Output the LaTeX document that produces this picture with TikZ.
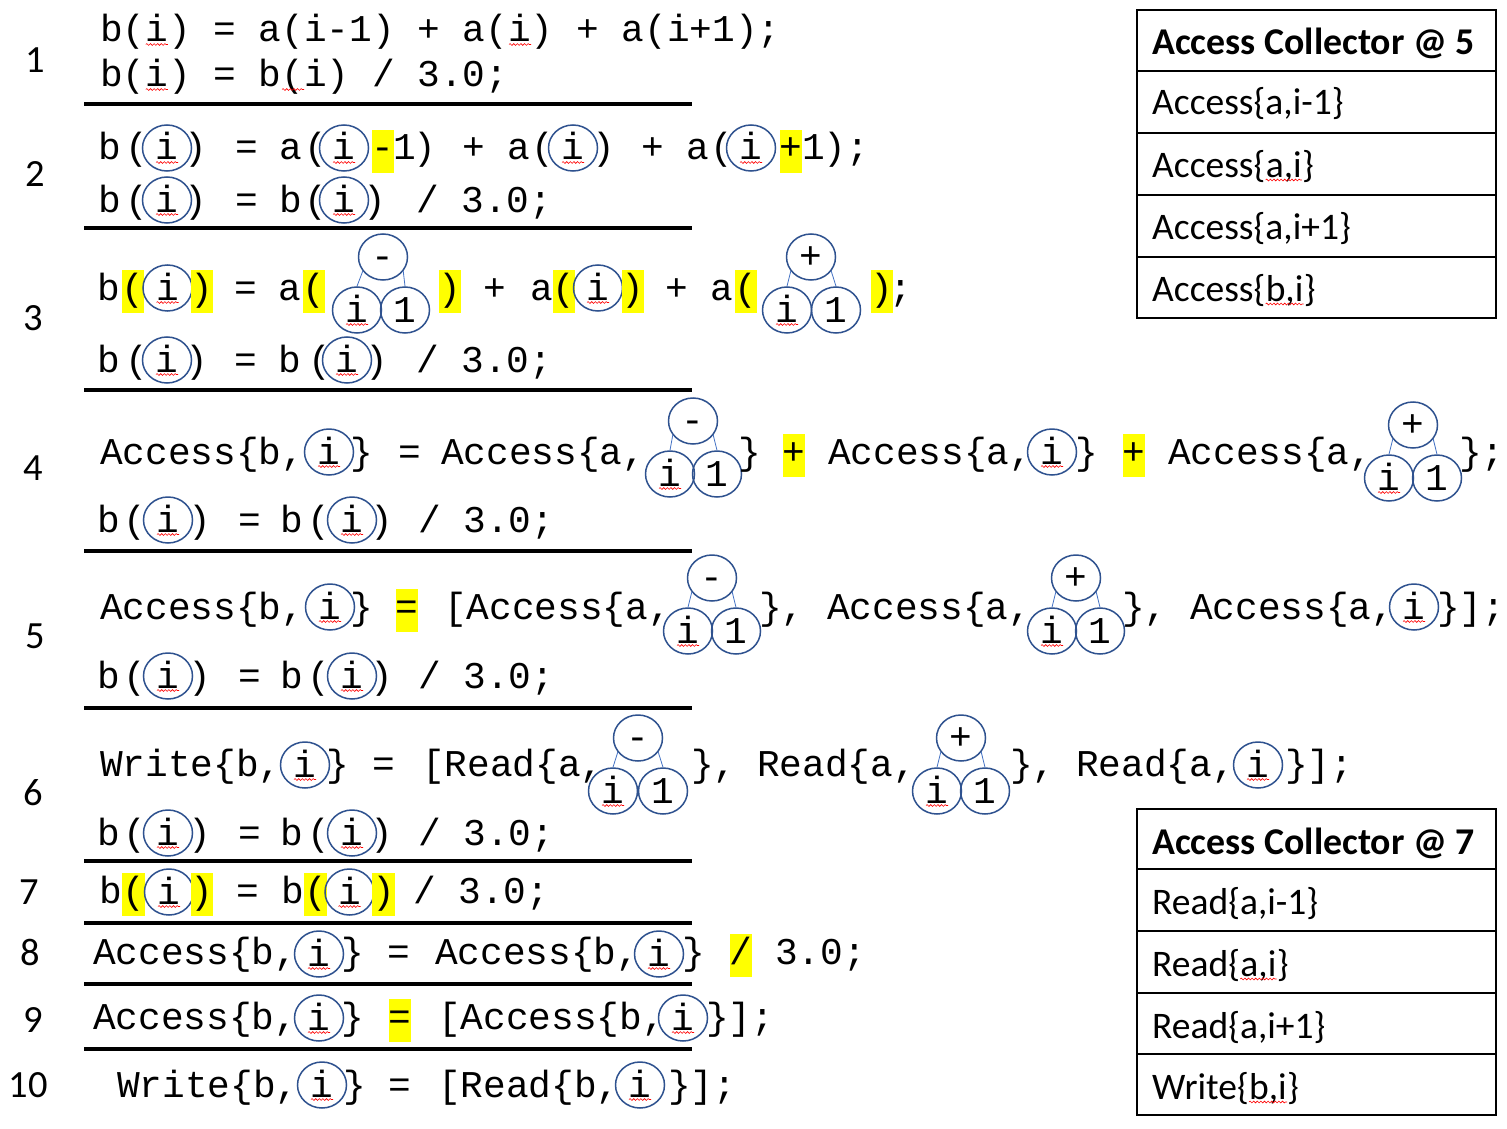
\documentclass[tikz,border=0pt]{standalone}
\usepackage{fontspec}
\usetikzlibrary{shapes.geometric,decorations.pathmorphing}
\newfontfamily\codefont{Liberation Mono}
\newfontfamily\labelfont{Carlito}
\definecolor{cblue}{HTML}{2F528F}
\definecolor{lblue}{HTML}{4472C4}
\definecolor{hly}{HTML}{FFFF00}
\newcounter{tk}
\tikzset{
 code/.style={font=\codefont\fontsize{37.8}{40}\selectfont, inner sep=0pt, outer sep=0pt},
 circ/.style={draw=cblue, line width=1.5pt, ellipse, minimum width=49pt, minimum height=46pt, inner sep=0pt},
 link/.style={draw=lblue, line width=0.8pt},
 wavy/.style={draw=red, line width=0.6pt, decorate, decoration={snake, amplitude=0.9pt, segment length=3.6pt}},
 rulel/.style={line width=3.5pt},
 lbl/.style={font=\labelfont\fontsize{38.5}{40}\selectfont, inner sep=0pt},
 boxt/.style={font=\labelfont\fontsize{37.5}{40}\selectfont, inner sep=0pt, anchor=base west},
 boxh/.style={font=\labelfont\bfseries\fontsize{37.8}{40}\selectfont, inner sep=0pt, anchor=base west},
 boxline/.style={line width=1.8pt},
}
\newcommand\tl[3]{\stepcounter{tk}\node[code,anchor=base west] (t\arabic{tk}) at (#1,#2) {#3};}
\newcommand\tc[3]{\stepcounter{tk}\node[code,anchor=base] (t\arabic{tk}) at (#1,#2) {#3};}
\newcommand\hl[2]{\fill[hly] (#1-11.35,#2-30) rectangle (#1+11.35,#2+13);}
\newcommand\wv[2]{\draw[wavy] (#1-11,#2) -- (#1+11,#2);}
\newcommand\ci[2]{\stepcounter{tk}\node[circ] (c\arabic{tk}) at (#1,#2) {};\node[code,anchor=base] (ct\arabic{tk}) at (#1,#2+12) {i};\wv{#1}{#2+14.5}}
\newcommand\optree[6]{\stepcounter{tk}%
 \node[circ] (o\arabic{tk}) at (#2,#3) {};
 \node[code,anchor=base] (ot\arabic{tk}) at (#2,#3+11) {#1};
 \node[circ] (i\arabic{tk}) at (#4,#6) {};
 \node[code,anchor=base] (it\arabic{tk}) at (#4,#6+12) {i};
 \node[circ] (n\arabic{tk}) at (#5,#6) {};
 \node[code,anchor=base] (nt\arabic{tk}) at (#5,#6+12) {1};
 \draw[link] (o\arabic{tk}.215) -- (i\arabic{tk}.north);
 \draw[link] (o\arabic{tk}.325) -- (n\arabic{tk}.north);
 \wv{#4}{#6+14.5}}
\newcommand\divline[2]{%
 \tc{109}{#1}{b}\tc{135}{#1}{(}\ci{168}{#2}\tc{200}{#1}{)}\tc{250}{#1}{=}\tc{292}{#1}{b}\tc{319}{#1}{(}\ci{352}{#2}\tc{382}{#1}{)}\tl{418}{#1}{/ 3.0;}}
\begin{document}
\begin{tikzpicture}[x=1pt,y=-1pt]
\useasboundingbox (0,0) rectangle (1507,1129);
\fill[white] (0,0) rectangle (1507,1129);
% row labels
\node[lbl] (n1) at (35,60) {1};
\node[lbl] (n2) at (35,174.5) {2};
\node[lbl] (n3) at (33,318) {3};
\node[lbl] (n4) at (33,468) {4};
\node[lbl] (n5) at (35,636) {5};
\node[lbl] (n6) at (33,793) {6};
\node[lbl] (n7) at (29,892) {7};
\node[lbl] (n8) at (30,952) {8};
\node[lbl] (n9) at (33,1020) {9};
\node[lbl] (n10) at (28,1085) {10};
% rules
\foreach \yy in {104,228,390,551,708,861,923,984,1049} \draw[rulel] (84,\yy) -- (692,\yy);
% line 1
\tl{100}{42}{b(i) = a(i-1) + a(i) + a(i+1);}
\wv{156.75}{44.5}\wv{520}{44.5}
\tl{100}{87}{b(i) = b(i) / 3.0;}
\wv{156.75}{89.5}\wv{293}{89.5}
% line 2
\tc{110}{160}{b}\tc{137}{160}{(}\ci{167}{148}\tc{196}{160}{)}\tc{247}{160}{=}\tc{291}{160}{a}\tc{316}{160}{(}\ci{344}{148}\hl{383}{160}\tc{383}{160}{-}\tc{405}{160}{1}\tc{425}{160}{)}\tc{474}{160}{+}\tc{519}{160}{a}\tc{543}{160}{(}\ci{573}{148}\tc{604}{160}{)}\tc{653}{160}{+}\tc{698}{160}{a}\tc{722}{160}{(}\ci{751}{148}\hl{791}{160}\tc{791}{160}{+}\tc{814}{160}{1}\tc{835}{160}{)}\tc{858}{160}{;}
\tc{110}{212}{b}\tc{137}{212}{(}\ci{167}{200}\tc{196}{212}{)}\tc{247}{212}{=}\tc{291}{212}{b}\tc{316}{212}{(}\ci{344}{200}\tc{375}{212}{)}\tl{416}{212}{/ 3.0;}
% line 3
\tc{109}{300}{b}\hl{133}{300}\tc{133}{300}{(}\ci{167.5}{288}\hl{202}{300}\tc{202}{300}{)}\tc{246}{300}{=}\tc{290}{300}{a}\hl{314}{300}\tc{314}{300}{(}\optree{-}{383}{257}{357}{405}{310}\hl{450}{300}\tc{450}{300}{)}\tc{495}{300}{+}\tc{542}{300}{a}\hl{564}{300}\tc{564}{300}{(}\ci{598}{288}\hl{633}{300}\tc{633}{300}{)}\tc{677}{300}{+}\tc{722}{300}{a}\hl{746}{300}\tc{746}{300}{(}\optree{+}{811}{257}{787}{836}{310}\hl{882}{300}\tc{882}{300}{)}\tc{901}{300}{;}
\tc{109}{372}{b}\tc{137}{372}{(}\ci{167}{360}\tc{197}{372}{)}\tc{246}{372}{=}\tc{290}{372}{b}\tc{320}{372}{(}\ci{347}{360}\tc{377}{372}{)}\tl{416}{372}{/ 3.0;}
% line 4
\tl{100}{464}{Access\{b,}\ci{329}{452}\tc{362}{464}{\}}\tc{410}{464}{=}\tl{441}{464}{Access\{a,}\optree{-}{693}{421}{670}{717}{474}\tc{750}{464}{\}}\hl{794}{464}\tc{794}{464}{+}\tl{828}{464}{Access\{a,}\ci{1052}{452}\tc{1087}{464}{\}}\hl{1134}{464}\tc{1134}{464}{+}\tl{1168}{464}{Access\{a,}\optree{+}{1413}{425}{1389}{1437}{478}\tl{1459}{464}{\};}
\divline{532}{520}
% line 5
\tl{100}{619}{Access\{b,}\ci{330}{607}\tc{362}{619}{\}}\hl{407}{619}\tc{407}{619}{=}\tl{444}{619}{[Access\{a,}\optree{-}{712}{578}{688}{736}{631}\tl{759}{619}{\},}\tl{827}{619}{Access\{a,}\optree{+}{1076}{578}{1052}{1100}{631}\tl{1122}{619}{\},}\tl{1190}{619}{Access\{a,}\ci{1414}{607}\tl{1437}{619}{\}];}
\divline{688}{676}
% line 6
\tl{100}{776}{Write\{b,}\ci{305}{765}\tc{338}{776}{\}}\tc{384}{776}{=}\tl{422}{776}{[Read\{a,}\optree{-}{638}{738}{613}{663}{791}\tl{691}{776}{\},}\tl{757}{776}{Read\{a,}\optree{+}{961}{738}{937}{985}{791}\tl{1010}{776}{\},}\tl{1076}{776}{Read\{a,}\ci{1258}{765}\tl{1285}{776}{\}];}
\divline{845}{833}
% line 7
\tc{111}{903}{b}\hl{133.5}{903}\tc{133.5}{903}{(}\ci{169}{892}\hl{202}{903}\tc{202}{903}{)}\tc{247.5}{903}{=}\tc{293}{903}{b}\hl{315.5}{903}\tc{315.5}{903}{(}\ci{349.5}{892}\hl{383.5}{903}\tc{383.5}{903}{)}\tl{413}{903}{/ 3.0;}
% line 8
\tl{93}{964}{Access\{b,}\ci{319}{954}\tc{353}{964}{\}}\tc{399}{964}{=}\tl{435}{964}{Access\{b,}\ci{659}{954}\tc{694}{964}{\}}\hl{741}{964}\tc{741}{964}{/}\tl{775}{964}{3.0;}
% line 9
\tl{93}{1029}{Access\{b,}\ci{319}{1018}\tc{353}{1029}{\}}\hl{400}{1029}\tc{400}{1029}{=}\tl{438}{1029}{[Access\{b,}\ci{683}{1018}\tl{706}{1029}{\}];}
% line 10
\tl{117}{1097}{Write\{b,}\ci{322}{1085}\tc{355}{1097}{\}}\tc{400}{1097}{=}\tl{438}{1097}{[Read\{b,}\ci{640}{1085}\tl{668}{1097}{\}];}
% box 1
\draw[boxline] (1137,10) rectangle (1496,318);
\foreach \yy in {71,133,195,257} \draw[boxline] (1137,\yy) -- (1496,\yy);
\node[boxh] (h1) at (1152,55) {Access Collector @ 5};
\node[boxt] (r11) at (1152,115) {Access\{a,i-1\}};
\node[boxt] (r12a) at (1152,177) {Access\{};
\node[boxt] (r12b) at (r12a.base east) {a,i};
\node[boxt] (r12c) at (r12b.base east) {\}};
\draw[wavy] ([yshift=-3pt]r12b.base west) -- ([yshift=-3pt]r12b.base east);
\node[boxt] (r13) at (1152,239) {Access\{a,i+1\}};
\node[boxt] (r14a) at (1152,301) {Access\{};
\node[boxt] (r14b) at (r14a.base east) {b,i};
\node[boxt] (r14c) at (r14b.base east) {\}};
\draw[wavy] ([yshift=-3pt]r14b.base west) -- ([yshift=-3pt]r14b.base east);
% box 2
\draw[boxline] (1137,809) rectangle (1496,1115);
\foreach \yy in {869,931,993,1054} \draw[boxline] (1137,\yy) -- (1496,\yy);
\node[boxh] (h2) at (1152,854) {Access Collector @ 7};
\node[boxt] (r21) at (1152,914) {Read\{a,i-1\}};
\node[boxt] (r22a) at (1152,976) {Read\{};
\node[boxt] (r22b) at (r22a.base east) {a,i};
\node[boxt] (r22c) at (r22b.base east) {\}};
\draw[wavy] ([yshift=-3pt]r22b.base west) -- ([yshift=-3pt]r22b.base east);
\node[boxt] (r23) at (1152,1038) {Read\{a,i+1\}};
\node[boxt] (r24a) at (1152,1099) {Write\{};
\node[boxt] (r24b) at (r24a.base east) {b,i};
\node[boxt] (r24c) at (r24b.base east) {\}};
\draw[wavy] ([yshift=-3pt]r24b.base west) -- ([yshift=-3pt]r24b.base east);
\end{tikzpicture}
\end{document}
